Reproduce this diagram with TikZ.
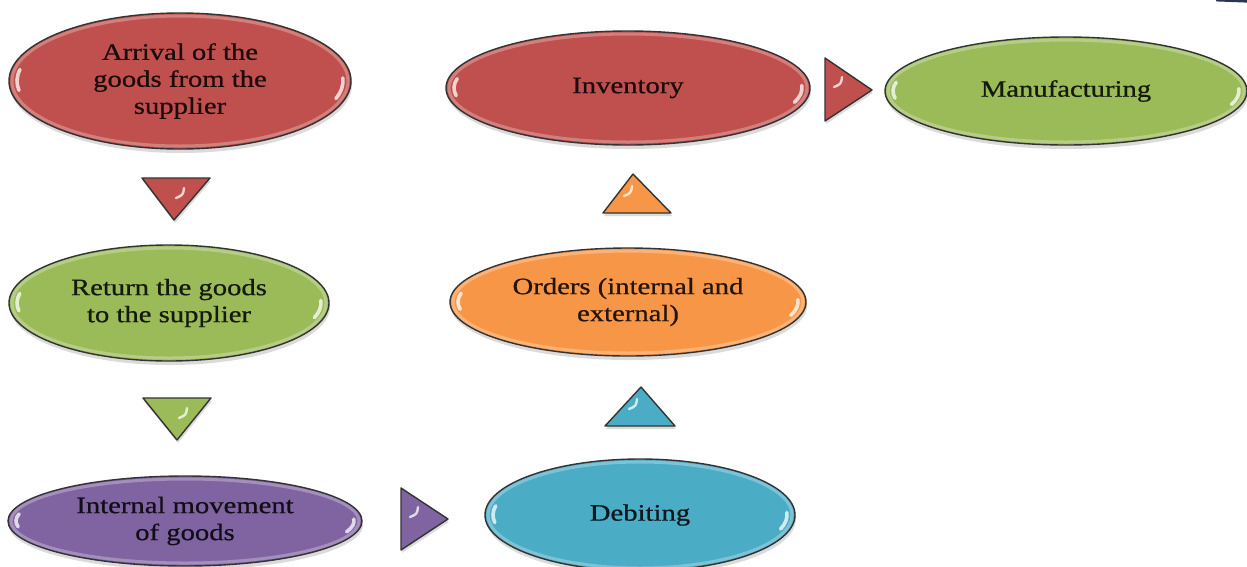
\documentclass[tikz,border=0pt]{standalone}
\usepackage{fontspec}
\setmainfont[FakeStretch=1.22, FakeBold=0.7]{Liberation Serif}
\usetikzlibrary{shapes.geometric}

\definecolor{ovred}{HTML}{C0504D}
\definecolor{ovgreen}{HTML}{9BBB59}
\definecolor{ovpurple}{HTML}{8064A2}
\definecolor{ovblue}{HTML}{4BACC6}
\definecolor{ovorange}{HTML}{F79646}
\definecolor{edgecol}{HTML}{333333}
\definecolor{cornermark}{HTML}{2C3550}

\tikzset{
  oval/.style={ellipse, draw=edgecol, line width=1.4pt, inner sep=0pt,
    align=center, font=\fontsize{23.5}{27}\selectfont},
  shine/.style={white, line width=3.6pt, line cap=round, opacity=.75},
  rim/.style={white, line width=3pt, opacity=.28},
  drop/.style={black, opacity=.14},
  arrowtri/.style={draw=edgecol, line width=1.4pt, line join=round}
}

% glossy oval: name, cx, cy, rx, ry, colour, text
\newcommand\glossyoval[7]{%
  \fill[drop] (#2+1,#3+4) ellipse [x radius=#4, y radius=#5];
  \node[oval, fill=#6, text=#6!14!black,
        minimum width={2*#4*1pt}, minimum height={2*#5*1pt}] (#1) at (#2,#3) {#7};
  \draw[rim] (#2,#3) ellipse [x radius=#4-3, y radius=#5-3];
  \draw[shine] (#2,#3) ++(171:{#4-8} and {#5-8})
      arc[start angle=171, end angle=191, x radius=#4-8, y radius=#5-8];
  \draw[shine] (#2,#3) ++(-3:{#4-8} and {#5-8})
      arc[start angle=-3, end angle=17, x radius=#4-8, y radius=#5-8];
}

% glossy triangle: colour, three corners, highlight centre (all as x,y)
\newcommand\glossytri[5]{%
  \fill[drop] ([shift={(1,3)}]#2) -- ([shift={(1,3)}]#3) -- ([shift={(1,3)}]#4) -- cycle;
  \draw[arrowtri, fill=#1] (#2) -- (#3) -- (#4) -- cycle;
  \draw[shine, line width=2.4pt] ([shift={(-4,5)}]#5) .. controls ([shift={(3,2)}]#5) .. ([shift={(4,-5)}]#5);
}

\begin{document}
\begin{tikzpicture}[x=1pt, y=-1pt]
\useasboundingbox (0,0) rectangle (1247,566);
\clip (0,0) rectangle (1247,566);
\fill[white] (0,0) rectangle (1247,566);

% process ovals
\glossyoval{arrival}{180}{81}{171}{68}{ovred}{Arrival of the\\goods from the\\supplier}
\glossyoval{inventory}{628}{88}{182}{57}{ovred}{Inventory}
\glossyoval{manufacturing}{1066}{91}{181}{54}{ovgreen}{Manufacturing}
\glossyoval{return}{169}{303}{160}{58}{ovgreen}{Return the goods\\to the supplier}
\glossyoval{orders}{628}{302}{178}{54}{ovorange}{Orders (internal and\\external)}
\glossyoval{internal}{185}{521}{177}{45}{ovpurple}{Internal movement\\of goods}
\glossyoval{debiting}{640}{515}{155}{56}{ovblue}{Debiting}

% flow markers between the ovals
\glossytri{ovred}{142,178}{210,178}{174,220}{180,193}
\glossytri{ovgreen}{143,398}{211,398}{177,440}{183,413}
\glossytri{ovpurple}{401,488}{448,519}{401,550}{414,512}
\glossytri{ovblue}{605,426}{641,387}{675,426}{633,404}
\glossytri{ovorange}{603,213}{633,174}{671,213}{628,191}
\glossytri{ovred}{825,58}{872,90}{825,121}{838,82}

% small mark in the upper right corner
\fill[cornermark] (1216,0) -- (1247,0) -- (1247,2.6) -- (1216,1.4) -- cycle;
\end{tikzpicture}
\end{document}
